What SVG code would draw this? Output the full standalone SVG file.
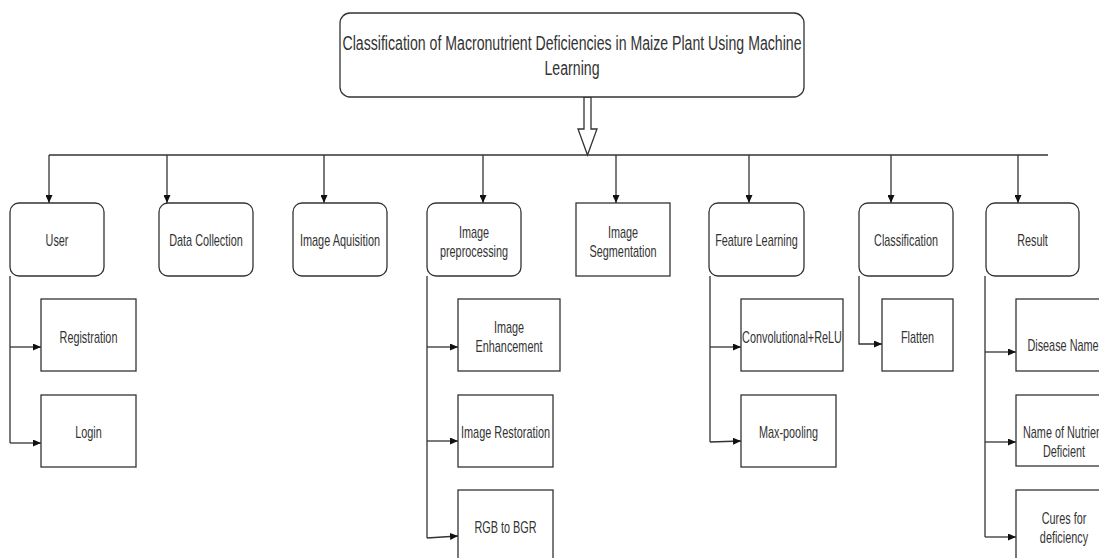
<svg xmlns="http://www.w3.org/2000/svg" width="1099" height="558" viewBox="0 0 1099 558">
<style>
.bx{fill:#fff;stroke:#333;stroke-width:1.3}
.ln{fill:none;stroke:#333;stroke-width:1.3}
.t{font-family:"Liberation Sans",Arial,sans-serif;font-size:17px;fill:#333;text-anchor:middle}
.tt{font-family:"Liberation Sans",Arial,sans-serif;font-size:20px;fill:#333;text-anchor:middle}
</style>
<defs>
<marker id="ah" markerWidth="8" markerHeight="7" refX="8" refY="3.5" orient="auto" markerUnits="userSpaceOnUse">
<path d="M0,0 L8,3.5 L0,7 z" fill="#111"/>
</marker>
</defs>
<rect width="1099" height="558" fill="#fff"/>
<g id="connectors">
<polygon class="ln" style="fill:#fff" points="584,97 591,97 591,129 597,129 587.5,155 578,129 584,129"/>
<line class="ln" x1="49" y1="155" x2="1048" y2="155"/>
<line class="ln" x1="49" y1="155" x2="49" y2="203" marker-end="url(#ah)"/>
<line class="ln" x1="167" y1="155" x2="167" y2="203" marker-end="url(#ah)"/>
<line class="ln" x1="324" y1="155" x2="324" y2="203" marker-end="url(#ah)"/>
<line class="ln" x1="483" y1="155" x2="483" y2="203" marker-end="url(#ah)"/>
<line class="ln" x1="616" y1="155" x2="616" y2="203" marker-end="url(#ah)"/>
<line class="ln" x1="749" y1="155" x2="749" y2="203" marker-end="url(#ah)"/>
<line class="ln" x1="891" y1="155" x2="891" y2="203" marker-end="url(#ah)"/>
<line class="ln" x1="1018" y1="155" x2="1018" y2="203" marker-end="url(#ah)"/>
<path class="ln" d="M10,276 V443"/>
<path class="ln" d="M10,347 H41" marker-end="url(#ah)"/>
<path class="ln" d="M10,443 H41" marker-end="url(#ah)"/>
<path class="ln" d="M427,276 V538"/>
<path class="ln" d="M427,347 H458" marker-end="url(#ah)"/>
<path class="ln" d="M427,441 H458" marker-end="url(#ah)"/>
<path class="ln" d="M427,538 L458,536" marker-end="url(#ah)"/>
<path class="ln" d="M710,276 V442"/>
<path class="ln" d="M710,347 H741" marker-end="url(#ah)"/>
<path class="ln" d="M710,442 L741,441" marker-end="url(#ah)"/>
<path class="ln" d="M859,276 V344 H882" marker-end="url(#ah)"/>
<path class="ln" d="M985,276 V537"/>
<path class="ln" d="M985,352 H1016" marker-end="url(#ah)"/>
<path class="ln" d="M985,442 H1016" marker-end="url(#ah)"/>
<path class="ln" d="M985,537 H1016" marker-end="url(#ah)"/>
</g>
<g id="title">
<rect class="bx" x="340" y="13" width="464" height="84" rx="10"/>
<text class="tt" x="572" y="50" textLength="459" lengthAdjust="spacingAndGlyphs">Classification of Macronutrient Deficiencies in Maize Plant Using Machine</text>
<text class="tt" x="572" y="75" textLength="55" lengthAdjust="spacingAndGlyphs">Learning</text>
</g>
<g id="user">
<rect class="bx" x="10" y="203" width="94" height="73" rx="9"/>
<text class="t" x="57" y="246" textLength="22.9" lengthAdjust="spacingAndGlyphs">User</text>
</g>
<g id="data-collection">
<rect class="bx" x="159" y="203" width="94" height="73" rx="9"/>
<text class="t" x="206" y="246" textLength="73.6" lengthAdjust="spacingAndGlyphs">Data Collection</text>
</g>
<g id="image-aquisition">
<rect class="bx" x="293" y="203" width="94" height="73" rx="9"/>
<text class="t" x="340" y="246" textLength="80.2" lengthAdjust="spacingAndGlyphs">Image Aquisition</text>
</g>
<g id="image-preprocessing">
<rect class="bx" x="427" y="203" width="94" height="73" rx="9"/>
<text class="t" x="474" y="238" textLength="30.2" lengthAdjust="spacingAndGlyphs">Image</text>
<text class="t" x="474" y="257" textLength="68.1" lengthAdjust="spacingAndGlyphs">preprocessing</text>
</g>
<g id="image-segmentation">
<rect class="bx" x="576" y="203" width="94" height="73"/>
<text class="t" x="623" y="238" textLength="30.2" lengthAdjust="spacingAndGlyphs">Image</text>
<text class="t" x="623" y="257" textLength="66.9" lengthAdjust="spacingAndGlyphs">Segmentation</text>
</g>
<g id="feature-learning">
<rect class="bx" x="709" y="203" width="95" height="73" rx="9"/>
<text class="t" x="756.5" y="246" textLength="82.7" lengthAdjust="spacingAndGlyphs">Feature Learning</text>
</g>
<g id="classification">
<rect class="bx" x="859" y="203" width="94" height="73" rx="9"/>
<text class="t" x="906" y="246" textLength="63.9" lengthAdjust="spacingAndGlyphs">Classification</text>
</g>
<g id="result">
<rect class="bx" x="986" y="203" width="93" height="73" rx="9"/>
<text class="t" x="1032.5" y="246" textLength="30.7" lengthAdjust="spacingAndGlyphs">Result</text>
</g>
<g id="registration">
<rect class="bx" x="41" y="299" width="95" height="72"/>
<text class="t" x="88.5" y="343" textLength="57.9" lengthAdjust="spacingAndGlyphs">Registration</text>
</g>
<g id="login">
<rect class="bx" x="41" y="395" width="95" height="72"/>
<text class="t" x="88.5" y="438" textLength="26.6" lengthAdjust="spacingAndGlyphs">Login</text>
</g>
<g id="image-enhancement">
<rect class="bx" x="458" y="299" width="102" height="72"/>
<text class="t" x="509" y="333" textLength="30.2" lengthAdjust="spacingAndGlyphs">Image</text>
<text class="t" x="509" y="352" textLength="66.9" lengthAdjust="spacingAndGlyphs">Enhancement</text>
</g>
<g id="image-restoration">
<rect class="bx" x="458" y="395" width="95" height="72"/>
<text class="t" x="505.5" y="438" textLength="89" lengthAdjust="spacingAndGlyphs">Image Restoration</text>
</g>
<g id="rgb-to-bgr">
<rect class="bx" x="458" y="490" width="95" height="75"/>
<text class="t" x="505.5" y="533" textLength="62.1" lengthAdjust="spacingAndGlyphs">RGB to BGR</text>
</g>
<g id="convolutional-relu">
<rect class="bx" x="741" y="299" width="102" height="72"/>
<text class="t" x="792" y="343" textLength="99.8" lengthAdjust="spacingAndGlyphs">Convolutional+ReLU</text>
</g>
<g id="max-pooling">
<rect class="bx" x="741" y="395" width="95" height="72"/>
<text class="t" x="788.5" y="438" textLength="59.1" lengthAdjust="spacingAndGlyphs">Max-pooling</text>
</g>
<g id="flatten">
<rect class="bx" x="882" y="299" width="71" height="72"/>
<text class="t" x="917.5" y="343" textLength="33.2" lengthAdjust="spacingAndGlyphs">Flatten</text>
</g>
<g id="disease-name">
<rect class="bx" x="1016" y="299" width="95" height="72"/>
<text class="t" x="1063" y="351" textLength="71.2" lengthAdjust="spacingAndGlyphs">Disease Name</text>
</g>
<g id="name-of-nutrient">
<rect class="bx" x="1016" y="395" width="95" height="71"/>
<text class="t" x="1064" y="438" textLength="82" lengthAdjust="spacingAndGlyphs">Name of Nutrient</text>
<text class="t" x="1064" y="457" textLength="42.2" lengthAdjust="spacingAndGlyphs">Deficient</text>
</g>
<g id="cures">
<rect class="bx" x="1016" y="490" width="95" height="75"/>
<text class="t" x="1064" y="524" textLength="44.6" lengthAdjust="spacingAndGlyphs">Cures for</text>
<text class="t" x="1064" y="543" textLength="48.3" lengthAdjust="spacingAndGlyphs">deficiency</text>
</g>
</svg>
